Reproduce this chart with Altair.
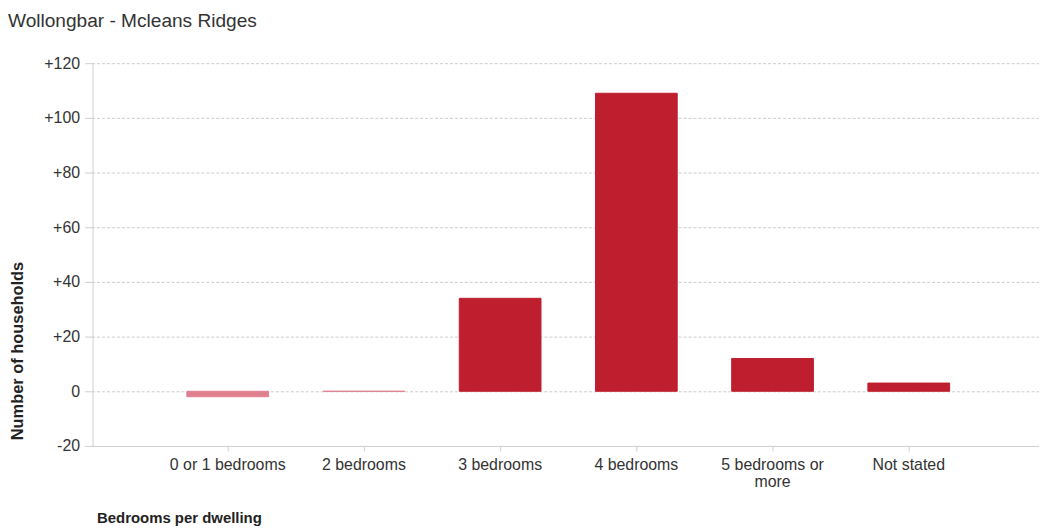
import altair as alt
import pandas as pd

title_text = "Wollongbar - Mcleans Ridges"
categories = ["0 or 1 bedrooms", "2 bedrooms", "3 bedrooms", "4 bedrooms",
              "5 bedrooms or more", "Not stated"]
values = [-2, 0, 34, 109, 12, 3]
y_ticks = [-20, 0, 20, 40, 60, 80, 100, 120]

df = pd.DataFrame({"Bedrooms": categories, "Change": values})

RED = "#BE1E2D"
PINK = "#E0808F"
FONT = "Liberation Sans"

bars = alt.Chart(df).mark_bar(strokeWidth=1).encode(
    x=alt.X(
        "Bedrooms:N",
        sort=categories,
        scale=alt.Scale(paddingInner=0.4, paddingOuter=0.7, range=[-1, 958], round=False),
        axis=alt.Axis(
            title="Bedrooms per dwelling",
            titleX=4, titleY=72, titleAlign="left", titleBaseline="middle",
            titleFont=FONT, titleFontSize=15, titleFontWeight="bold", titleColor="#222",
            labelAngle=0, labelFont=FONT, labelFontSize=16, labelColor="#333",
            labelPadding=6, labelLineHeight=17,
            labelExpr="datum.label == '5 bedrooms or more' ? ['5 bedrooms or', 'more'] : datum.label",
            tickSize=5, tickColor="#d0d0d0", domainColor="#d0d0d0", grid=False,
        ),
    ),
    y=alt.Y(
        "Change:Q",
        scale=alt.Scale(domain=[-20, 120], nice=False),
        axis=alt.Axis(
            title="Number of households",
            values=y_ticks,
            titleAngle=-90, titleX=-75, titleY=289, titleAlign="center", titleBaseline="middle",
            titleFont=FONT, titleFontSize=16.5, titleFontWeight="bold", titleColor="#222",
            labelFont=FONT, labelFontSize=16, labelColor="#333", labelPadding=5,
            labelExpr="datum.value > 0 ? '+' + datum.value : '' + datum.value",
            tickSize=8, tickColor="#d0d0d0", domainColor="#d0d0d0",
            grid=True, gridColor="#cccccc", gridDash=[3, 2], gridWidth=1,
        ),
    ),
    color=alt.condition("datum.Change <= 0", alt.value(PINK), alt.value(RED)),
    stroke=alt.condition("datum.Change <= 0", alt.value(PINK), alt.value(RED)),
)

chart = bars.properties(
    width=952,
    height=385,
    autosize=alt.AutoSizeParams(type="none"),
    padding={"left": 85, "top": 54, "right": 0, "bottom": 80},
    title=alt.TitleParams(
        title_text, anchor="start", dx=-2, offset=24,
        fontSize=19.2, fontWeight="normal", color="#333", font=FONT,
    ),
).configure_view(stroke=None)

chart.save("out.html", embed_options={"renderer": "svg", "actions": False})
